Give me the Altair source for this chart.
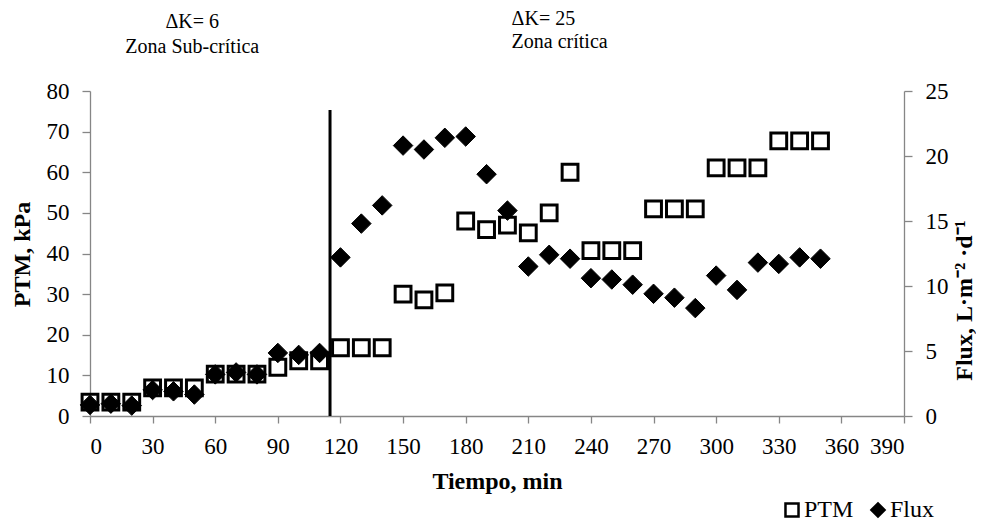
import altair as alt
import pandas as pd

# ---- data ----
tiempo = list(range(0, 360, 10))
ptm = [3.4, 3.4, 3.4, 6.9, 6.9, 6.9, 10.3, 10.3, 10.3, 12.0, 13.6, 13.6,
       16.8, 16.8, 16.8, 30.0, 28.6, 30.3, 48.0, 45.9, 47.0, 45.1, 50.0, 60.0,
       40.7, 40.7, 40.7, 51.0, 51.0, 51.0, 61.1, 61.1, 61.1, 67.7, 67.7, 67.7]
flux = [0.85, 0.95, 0.8, 2.0, 1.9, 1.65, 3.2, 3.35, 3.2, 4.85, 4.7, 4.85,
        12.2, 14.8, 16.2, 20.8, 20.5, 21.4, 21.5, 18.6, 15.8, 11.5, 12.4, 12.1,
        10.6, 10.5, 10.1, 9.4, 9.1, 8.3, 10.8, 9.7, 11.8, 11.7, 12.2, 12.1]
series_names = ["PTM", "Flux"]
x_ticks = list(range(0, 391, 30))
left_ticks = list(range(0, 81, 10))
right_ticks = list(range(0, 26, 5))
divider_t = 115
divider_top = 75.3
annot = [
    {"t": 49, "line1": "\u0394K= 6", "line2": "Zona Sub-cr\u00edtica", "align": "center"},
    {"t": 202, "line1": "\u0394K= 25", "line2": "Zona cr\u00edtica", "align": "left"},
]

FONT = "Liberation Serif"
GREY = "#868686"

df_ptm = pd.DataFrame({"t": tiempo, "v": ptm, "series": "PTM"})
df_flux = pd.DataFrame({"t": tiempo, "v": flux, "series": "Flux"})

x_enc = alt.X("t:Q", scale=alt.Scale(domain=[0, 390], nice=False),
              axis=alt.Axis(values=x_ticks, title="Tiempo,  min", titleY=72,
                            titleBaseline="alphabetic", tickSize=7, labelPadding=12))

legend_spec = alt.Legend(
    orient="none", legendX=690, legendY=407, direction="horizontal",
    title=None, labelFontSize=24, labelFont=FONT, labelColor="black", symbolSize=170,
    symbolStrokeWidth=2.5, columnPadding=12, labelOffset=0,
)
shape_enc = alt.Shape("series:N", scale=alt.Scale(domain=series_names, range=["square", "diamond"]),
                      legend=legend_spec)
fill_enc = alt.Fill("series:N", scale=alt.Scale(domain=series_names, range=["white", "black"]),
                    legend=legend_spec)
stroke_enc = alt.Stroke("series:N", scale=alt.Scale(domain=series_names, range=["black", "black"]),
                        legend=legend_spec)

left_y = alt.Y("v:Q", scale=alt.Scale(domain=[0, 80], nice=False),
               axis=alt.Axis(values=left_ticks, title="PTM, kPa", orient="left", tickSize=8,
                             labelPadding=13, titleX=-68, titleY=163, titleAngle=-90,
                             titleAlign="center", titleBaseline="middle"))

ptm_layer = alt.Chart(df_ptm).mark_point(size=250, strokeWidth=3, opacity=1, filled=True).encode(
    x=x_enc, y=left_y, shape=shape_enc, fill=fill_enc, stroke=stroke_enc)

rule_layer = alt.Chart(pd.DataFrame({"t": [divider_t], "y0": [0], "y1": [divider_top]})).mark_rule(
    color="black", strokeWidth=3).encode(x="t:Q", y=alt.Y("y0:Q"), y2="y1:Q")

df_annot = pd.DataFrame(annot)
txt1_c = alt.Chart(df_annot[df_annot["align"] == "center"]).mark_text(
    font=FONT, fontSize=20, align="center", baseline="alphabetic", color="black").encode(
    x="t:Q", y=alt.value(-63), text="line1:N")
txt2_c = alt.Chart(df_annot[df_annot["align"] == "center"]).mark_text(
    font=FONT, fontSize=20, align="center", baseline="alphabetic", color="black").encode(
    x="t:Q", y=alt.value(-38), text="line2:N")
txt1_l = alt.Chart(df_annot[df_annot["align"] == "left"]).mark_text(
    font=FONT, fontSize=20, align="left", baseline="alphabetic", color="black").encode(
    x="t:Q", y=alt.value(-66), text="line1:N")
txt2_l = alt.Chart(df_annot[df_annot["align"] == "left"]).mark_text(
    font=FONT, fontSize=20, align="left", baseline="alphabetic", color="black").encode(
    x="t:Q", y=alt.value(-43), text="line2:N")

left = alt.layer(ptm_layer, rule_layer, txt1_c, txt2_c, txt1_l, txt2_l)

right_y = alt.Y("v:Q", scale=alt.Scale(domain=[0, 25], nice=False),
                axis=alt.Axis(values=right_ticks, title="Flux, L\u00b7m\u207b\u00b2 \u00b7d\u207b\u00b9",
                              orient="right", tickSize=8, labelPadding=13, titleX=60, titleY=209,
                              titleAngle=-90, titleAlign="center", titleBaseline="middle"))

flux_layer = alt.Chart(df_flux).mark_point(size=380, strokeWidth=1, opacity=1, filled=True).encode(
    x=x_enc, y=right_y, shape=shape_enc, fill=fill_enc, stroke=stroke_enc)

chart = alt.layer(left, flux_layer).resolve_scale(y="independent").properties(
    width=814, height=325,
    autosize=alt.AutoSizeParams(type="none"),
    padding={"left": 82, "top": 83, "right": 72, "bottom": 105},
).configure_view(stroke=None).configure_axis(
    grid=False, domainColor=GREY, tickColor=GREY, domainWidth=1.3, tickWidth=1.3,
    labelFont=FONT, labelFontSize=23, labelColor="black",
    titleFont=FONT, titleFontSize=24, titleFontWeight="bold", titleColor="black",
).configure_text(font=FONT)

chart.save("out.html", embed_options={"renderer": "svg", "actions": False})
